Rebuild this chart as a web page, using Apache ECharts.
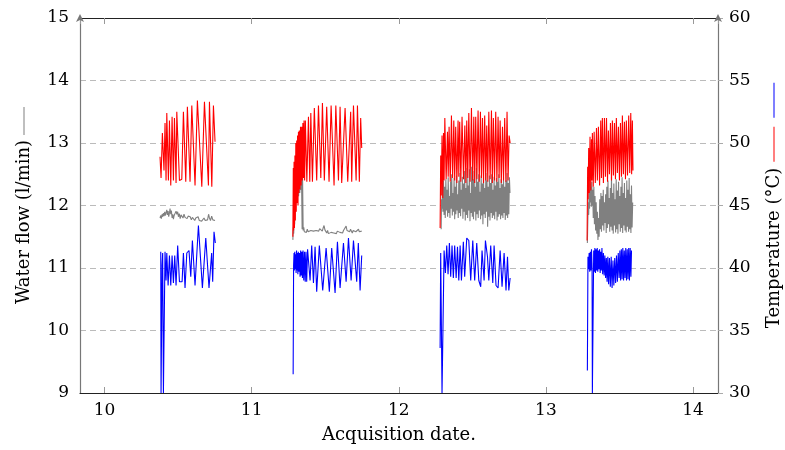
<!DOCTYPE html>
<html>
<head>
<meta charset="utf-8">
<script src="https://cdn.jsdelivr.net/npm/echarts@6/dist/echarts.min.js"></script>
<style>
html,body{margin:0;padding:0;background:#fff;}
#chart{width:785px;height:450px;}
</style>
</head>
<body>
<div id="chart"></div>
<script>
// ---- tick labels ----
const xTicks = [10, 11, 12, 13, 14];
const flowTicks = [9, 10, 11, 12, 13, 14, 15];
const tempTicks = [30, 35, 40, 45, 50, 55, 60];

// ---- hot water temperature (red, right axis) ----
const hot1 = [[10.377,48.9],[10.384,47.2],[10.393,50.8],[10.404,47.8],[10.411,51.6],[10.418,47.0],[10.423,52.4],[10.434,47.0],[10.441,51.8],[10.450,46.6],[10.459,52.1],[10.468,47.0],[10.475,52.0],[10.486,46.8],[10.491,52.5],[10.509,47.0],[10.525,47.1],[10.536,52.5],[10.552,46.9],[10.563,52.9],[10.581,46.9],[10.593,53.0],[10.615,46.6],[10.631,53.4],[10.661,46.5],[10.679,53.3],[10.706,46.6],[10.713,53.3],[10.729,46.5],[10.740,53.0],[10.751,50.1]];
const hot2 = [[11.280,42.5],[11.283,48.0],[11.285,43.0],[11.288,48.5],[11.291,43.2],[11.294,49.0],[11.297,43.8],[11.300,50.0],[11.303,44.5],[11.306,50.2],[11.309,45.2],[11.312,50.6],[11.315,45.0],[11.318,50.9],[11.321,46.0],[11.324,51.0],[11.328,46.3],[11.332,51.3],[11.336,46.6],[11.340,51.3],[11.344,47.0],[11.348,51.6],[11.352,47.2],[11.356,51.8],[11.360,47.0],[11.365,51.8],[11.375,46.9],[11.386,52.1],[11.395,46.9],[11.402,52.4],[11.413,46.9],[11.426,52.8],[11.442,47.0],[11.454,53.0],[11.470,47.2],[11.481,53.2],[11.494,47.0],[11.510,52.9],[11.526,46.9],[11.540,53.0],[11.560,46.6],[11.572,53.0],[11.590,47.0],[11.601,52.9],[11.612,46.8],[11.635,52.8],[11.653,46.9],[11.673,52.5],[11.680,46.9],[11.692,53.0],[11.710,47.0],[11.719,53.0],[11.732,46.9],[11.741,52.0],[11.748,49.6]];
const hot3 = [[12.281,43.2],[12.285,49.0],[12.289,45.8],[12.294,50.6],[12.299,45.6],[12.304,50.8],[12.308,47.0],[12.313,52.0],[12.322,47.1],[12.331,50.9],[12.336,47.3],[12.342,51.3],[12.350,46.9],[12.358,52.2],[12.366,47.2],[12.374,51.8],[12.380,47.0],[12.387,51.3],[12.395,46.8],[12.403,51.8],[12.408,47.3],[12.414,51.7],[12.422,46.9],[12.430,52.1],[12.440,47.1],[12.449,51.4],[12.456,46.8],[12.462,51.8],[12.469,47.2],[12.476,52.4],[12.485,46.9],[12.494,52.8],[12.502,47.0],[12.510,52.1],[12.516,46.8],[12.523,52.1],[12.531,47.1],[12.539,52.6],[12.547,46.9],[12.555,52.5],[12.562,47.2],[12.569,52.0],[12.576,46.8],[12.584,52.2],[12.591,47.0],[12.598,51.4],[12.605,46.9],[12.612,52.5],[12.621,47.1],[12.630,52.6],[12.636,46.8],[12.643,52.0],[12.651,47.0],[12.659,52.5],[12.667,46.9],[12.675,52.1],[12.682,47.2],[12.689,51.8],[12.697,46.8],[12.705,51.3],[12.712,47.0],[12.720,52.0],[12.728,46.9],[12.736,52.5],[12.743,47.0],[12.750,50.6],[12.757,50.0]];
const hot4 = [[13.280,42.2],[13.284,48.1],[13.287,45.5],[13.291,49.6],[13.295,46.0],[13.300,50.5],[13.305,46.2],[13.310,50.3],[13.313,47.0],[13.316,50.8],[13.322,46.5],[13.328,50.9],[13.336,46.8],[13.344,51.2],[13.350,47.0],[13.357,51.3],[13.365,46.6],[13.373,51.8],[13.378,47.2],[13.384,52.0],[13.391,46.8],[13.398,52.0],[13.405,47.3],[13.412,52.0],[13.419,46.9],[13.425,51.0],[13.432,47.5],[13.439,51.6],[13.446,47.0],[13.452,51.8],[13.459,47.4],[13.466,51.6],[13.473,47.1],[13.479,52.0],[13.486,47.6],[13.493,51.3],[13.500,47.0],[13.507,51.6],[13.514,47.3],[13.520,52.2],[13.527,47.5],[13.534,51.7],[13.541,47.1],[13.547,51.8],[13.555,47.4],[13.563,52.2],[13.570,47.6],[13.577,52.4],[13.583,47.5],[13.588,51.8],[13.592,47.8]];

// ---- return water temperature (blue, right axis) ----
const cold1 = [[10.382,41.3],[10.384,30.0],[10.388,30.0],[10.391,40.2],[10.395,41.2],[10.400,30.0],[10.407,30.0],[10.411,41.3],[10.418,39.0],[10.423,41.2],[10.432,38.6],[10.441,41.0],[10.450,38.6],[10.459,41.0],[10.468,38.8],[10.477,41.0],[10.486,38.6],[10.497,41.8],[10.509,38.9],[10.527,38.9],[10.536,41.2],[10.547,38.4],[10.559,41.2],[10.574,41.4],[10.586,39.3],[10.597,42.2],[10.615,38.6],[10.638,43.4],[10.665,38.4],[10.688,42.4],[10.710,38.4],[10.728,41.2],[10.735,38.9],[10.744,42.9],[10.753,42.0]];
const cold2 = [[11.282,31.5],[11.285,40.2],[11.288,41.2],[11.290,39.8],[11.293,41.3],[11.296,39.9],[11.299,41.1],[11.302,39.6],[11.305,41.4],[11.308,39.8],[11.311,41.2],[11.314,39.5],[11.317,41.3],[11.321,39.7],[11.325,41.2],[11.329,39.3],[11.333,41.4],[11.337,39.4],[11.341,41.3],[11.345,39.2],[11.349,41.4],[11.354,39.0],[11.359,41.3],[11.364,38.9],[11.369,41.3],[11.374,38.9],[11.380,41.5],[11.397,39.0],[11.408,41.8],[11.420,38.8],[11.431,41.7],[11.442,38.1],[11.460,41.8],[11.483,38.2],[11.506,41.6],[11.528,38.1],[11.544,41.6],[11.567,38.0],[11.583,42.1],[11.601,38.4],[11.624,42.0],[11.642,38.9],[11.658,42.4],[11.676,39.0],[11.692,42.2],[11.714,38.9],[11.725,42.0],[11.737,38.2],[11.748,41.0]];
const cold3 = [[12.281,33.6],[12.285,41.2],[12.294,30.0],[12.303,30.0],[12.308,41.4],[12.317,39.6],[12.326,41.8],[12.335,39.5],[12.344,42.0],[12.353,39.3],[12.362,41.8],[12.371,39.2],[12.380,41.8],[12.390,39.2],[12.399,41.7],[12.408,39.0],[12.417,41.8],[12.426,39.0],[12.439,42.1],[12.448,39.3],[12.462,42.4],[12.476,42.2],[12.489,39.0],[12.503,42.2],[12.516,39.0],[12.530,42.0],[12.544,39.0],[12.557,38.5],[12.566,41.4],[12.580,39.0],[12.589,42.2],[12.603,40.9],[12.612,39.0],[12.625,41.8],[12.639,38.8],[12.648,41.8],[12.661,38.6],[12.675,38.4],[12.689,41.4],[12.702,38.5],[12.716,41.2],[12.729,38.2],[12.739,40.9],[12.748,38.2],[12.757,39.2]];
const cold4 = [[13.282,31.8],[13.286,40.9],[13.290,39.9],[13.294,41.2],[13.298,39.7],[13.302,41.3],[13.306,39.8],[13.310,41.5],[13.314,40.0],[13.316,30.0],[13.321,30.0],[13.325,41.4],[13.329,39.7],[13.333,41.6],[13.337,39.6],[13.341,41.5],[13.345,39.8],[13.349,41.6],[13.353,39.7],[13.357,41.4],[13.361,39.9],[13.365,41.5],[13.369,39.6],[13.373,41.3],[13.377,39.8],[13.381,41.6],[13.386,39.5],[13.391,41.2],[13.396,39.4],[13.401,41.0],[13.406,39.2],[13.411,40.8],[13.416,38.9],[13.421,40.9],[13.426,38.7],[13.432,40.8],[13.438,38.5],[13.444,40.9],[13.450,38.4],[13.456,40.6],[13.462,38.6],[13.468,40.8],[13.474,38.8],[13.480,41.0],[13.486,38.9],[13.492,41.2],[13.498,39.2],[13.503,41.4],[13.508,39.0],[13.513,41.5],[13.518,39.1],[13.523,41.6],[13.528,39.0],[13.533,41.4],[13.538,39.2],[13.543,41.6],[13.548,39.0],[13.553,41.5],[13.558,39.1],[13.563,41.6],[13.568,39.0],[13.573,41.6],[13.578,39.3],[13.582,41.4]];

// ---- water flow (gray, left axis) ----
const flow1 = [[10.377,11.80],[10.382,11.84],[10.386,11.79],[10.391,11.86],[10.395,11.82],[10.400,11.88],[10.404,11.83],[10.409,11.90],[10.413,11.84],[10.418,11.87],[10.423,11.93],[10.427,11.85],[10.432,11.91],[10.436,11.82],[10.441,11.88],[10.445,11.95],[10.450,11.86],[10.454,11.92],[10.459,11.80],[10.464,11.86],[10.468,11.78],[10.473,11.84],[10.480,11.81],[10.486,11.91],[10.491,11.86],[10.497,11.90],[10.502,11.82],[10.508,11.87],[10.514,11.79],[10.520,11.85],[10.527,11.83],[10.533,11.80],[10.540,11.86],[10.547,11.81],[10.554,11.84],[10.561,11.79],[10.568,11.83],[10.575,11.80],[10.582,11.82],[10.590,11.77],[10.597,11.81],[10.605,11.79],[10.613,11.76],[10.620,11.80],[10.628,11.78],[10.636,11.82],[10.644,11.76],[10.652,11.79],[10.660,11.75],[10.668,11.78],[10.676,11.80],[10.684,11.76],[10.692,11.79],[10.700,11.77],[10.707,11.86],[10.713,11.80],[10.720,11.76],[10.728,11.83],[10.736,11.77],[10.744,11.80],[10.751,11.76]];
const flow2 = [[11.280,11.45],[11.283,11.65],[11.286,11.55],[11.289,12.00],[11.292,11.70],[11.295,12.15],[11.298,11.95],[11.301,12.30],[11.304,12.05],[11.307,12.35],[11.311,12.10],[11.315,12.38],[11.319,12.15],[11.323,12.40],[11.327,12.20],[11.331,12.42],[11.335,12.25],[11.339,12.45],[11.343,11.62],[11.346,12.45],[11.350,11.60],[11.354,11.65],[11.358,11.58],[11.366,11.60],[11.372,11.57],[11.378,11.62],[11.384,11.58],[11.390,11.61],[11.396,11.56],[11.402,11.60],[11.408,11.58],[11.414,11.62],[11.420,11.59],[11.426,11.61],[11.432,11.58],[11.438,11.60],[11.444,11.57],[11.450,11.61],[11.456,11.59],[11.462,11.63],[11.468,11.60],[11.474,11.62],[11.480,11.59],[11.486,11.64],[11.492,11.68],[11.498,11.61],[11.504,11.58],[11.510,11.56],[11.516,11.60],[11.522,11.55],[11.528,11.58],[11.534,11.54],[11.540,11.57],[11.546,11.55],[11.552,11.58],[11.558,11.56],[11.564,11.54],[11.570,11.57],[11.576,11.55],[11.582,11.59],[11.588,11.56],[11.594,11.60],[11.600,11.57],[11.606,11.55],[11.612,11.58],[11.618,11.56],[11.624,11.60],[11.630,11.63],[11.636,11.58],[11.642,11.67],[11.648,11.60],[11.654,11.57],[11.660,11.61],[11.666,11.58],[11.672,11.62],[11.678,11.59],[11.684,11.56],[11.690,11.60],[11.696,11.57],[11.702,11.61],[11.708,11.58],[11.714,11.55],[11.720,11.59],[11.726,11.62],[11.732,11.58],[11.738,11.60],[11.744,11.57],[11.748,11.59]];
const flow3 = [[12.288,11.62],[12.291,12.10],[12.294,11.95],[12.297,12.35],[12.300,11.90],[12.304,12.40],[12.308,11.85],[12.312,12.30],[12.316,11.80],[12.320,12.42],[12.324,11.92],[12.328,12.25],[12.332,11.82],[12.336,12.45],[12.340,11.88],[12.344,12.15],[12.348,11.80],[12.352,12.38],[12.356,11.95],[12.360,12.50],[12.364,11.84],[12.368,12.20],[12.372,11.90],[12.376,12.44],[12.380,11.78],[12.384,12.30],[12.388,11.86],[12.392,12.48],[12.396,11.92],[12.400,12.18],[12.404,11.80],[12.408,12.40],[12.412,11.88],[12.416,12.52],[12.420,11.83],[12.424,12.25],[12.428,11.95],[12.432,12.46],[12.436,11.79],[12.440,12.35],[12.444,11.90],[12.448,12.55],[12.452,11.76],[12.456,12.28],[12.460,11.85],[12.464,12.60],[12.468,11.80],[12.472,12.32],[12.476,11.92],[12.480,12.58],[12.484,11.75],[12.488,12.20],[12.492,11.88],[12.496,12.62],[12.500,11.82],[12.504,12.42],[12.508,11.78],[12.512,12.55],[12.516,11.90],[12.520,12.30],[12.524,11.76],[12.528,12.60],[12.532,11.86],[12.536,12.38],[12.540,11.80],[12.544,12.50],[12.548,11.92],[12.552,12.22],[12.556,11.78],[12.560,12.48],[12.564,11.84],[12.568,12.35],[12.572,11.70],[12.576,12.45],[12.580,11.86],[12.584,12.28],[12.588,11.80],[12.592,12.52],[12.596,11.90],[12.600,12.40],[12.604,11.66],[12.608,12.30],[12.612,11.82],[12.616,12.48],[12.620,11.76],[12.624,12.36],[12.628,11.88],[12.632,12.50],[12.636,11.80],[12.640,12.25],[12.644,11.84],[12.648,12.46],[12.652,11.78],[12.656,12.32],[12.660,11.90],[12.664,12.44],[12.668,11.76],[12.672,12.38],[12.676,11.82],[12.680,12.50],[12.684,11.86],[12.688,12.28],[12.692,11.78],[12.696,12.42],[12.700,11.84],[12.704,12.34],[12.708,11.80],[12.712,12.46],[12.716,11.88],[12.720,12.30],[12.724,11.77],[12.728,12.40],[12.732,11.84],[12.736,12.52],[12.740,11.80],[12.744,12.36],[12.748,11.86],[12.752,12.45],[12.756,12.20]];
const flow4 = [[13.282,11.40],[13.285,11.75],[13.288,12.05],[13.291,11.85],[13.294,12.25],[13.297,11.95],[13.300,12.35],[13.303,12.05],[13.306,12.30],[13.309,11.98],[13.312,12.38],[13.315,12.00],[13.318,12.25],[13.322,11.80],[13.326,12.30],[13.330,11.70],[13.334,12.15],[13.338,11.60],[13.342,12.05],[13.346,11.55],[13.350,11.90],[13.354,11.45],[13.358,11.80],[13.362,11.50],[13.366,12.10],[13.370,11.62],[13.374,12.20],[13.378,11.58],[13.382,12.15],[13.386,11.68],[13.390,12.25],[13.394,11.60],[13.398,12.05],[13.402,11.72],[13.406,12.18],[13.410,11.56],[13.414,12.30],[13.418,11.64],[13.422,12.40],[13.426,11.70],[13.430,12.12],[13.434,11.58],[13.438,12.28],[13.442,11.66],[13.446,12.46],[13.450,11.60],[13.454,12.20],[13.458,11.55],[13.462,12.35],[13.466,11.68],[13.470,12.10],[13.474,11.57],[13.478,12.42],[13.482,11.62],[13.486,12.24],[13.490,11.55],[13.494,12.38],[13.498,11.70],[13.502,12.15],[13.506,11.58],[13.510,12.30],[13.514,11.64],[13.518,12.45],[13.522,11.56],[13.526,12.20],[13.530,11.68],[13.534,12.36],[13.538,11.60],[13.542,12.12],[13.546,11.57],[13.550,12.40],[13.554,11.66],[13.558,12.25],[13.562,11.58],[13.566,12.44],[13.570,11.62],[13.574,12.18],[13.578,11.56],[13.582,12.32],[13.586,11.65],[13.590,12.05]];

const hotSegs = [hot1, hot2, hot3, hot4];
const coldSegs = [cold1, cold2, cold3, cold4];
const flowSegs = [flow1, flow2, flow3, flow4];

const FONT = 'DejaVu Serif';
const chart = echarts.init(document.getElementById('chart'), null, {renderer: 'canvas'});

function mk(segs, color, yIdx, z) {
  return segs.map(d => ({
    type: 'line', xAxisIndex: 0, yAxisIndex: yIdx, data: d,
    showSymbol: false, symbol: 'none', animation: false, z: z,
    lineStyle: {color: color, width: 1.1}, itemStyle: {color: color},
    emphasis: {disabled: true}
  }));
}

const xMin = 9.833, xMax = 14.17;
const option = {
  animation: false,
  grid: {left: 80, right: 67, top: 18, bottom: 57, containLabel: false, outerBoundsMode: 'none'},
  xAxis: [{
    type: 'value', min: xMin, max: xMax, position: 'bottom',
    name: 'Acquisition date.', nameLocation: 'middle', nameGap: 33,
    nameTextStyle: {fontFamily: FONT, fontSize: 18, color: '#000'},
    axisLine: {show: true, lineStyle: {color: '#222', width: 1.2}},
    axisTick: {show: true, inside: true, length: 6, lineStyle: {color: '#999'}},
    axisLabel: {show: true, margin: 9, fontFamily: FONT, fontSize: 17, color: '#000',
      showMinLabel: false, showMaxLabel: false,
      formatter: v => xTicks.includes(Math.round(v * 1000) / 1000) ? String(Math.round(v)) : ''},
    splitLine: {show: false}
  }, {
    type: 'value', min: xMin, max: xMax, position: 'top',
    axisLine: {show: true, lineStyle: {color: '#222', width: 1.2}},
    axisTick: {show: true, inside: true, length: 6, lineStyle: {color: '#999'}},
    axisLabel: {show: false}, splitLine: {show: false}
  }],
  yAxis: [{
    type: 'value', min: flowTicks[0], max: flowTicks[flowTicks.length - 1], interval: 1, position: 'left',
    name: '{t|Water flow (l/min)}{sp| }{g| }', nameLocation: 'middle', nameGap: 47, nameRotate: 90,
    nameTextStyle: {fontFamily: FONT, fontSize: 18, color: '#000',
      rich: {
        t: {fontFamily: FONT, fontSize: 18, color: '#000', verticalAlign: 'middle'},
        sp: {width: 5, verticalAlign: 'middle'},
        g: {width: 28, height: 1, backgroundColor: '#808080', verticalAlign: 'middle'}
      }},
    axisLine: {show: true, lineStyle: {color: '#777', width: 1.2}, symbol: ['none', 'arrow'], symbolSize: [6, 8], symbolOffset: [0, 4]},
    axisTick: {show: false},
    axisLabel: {margin: 11, fontFamily: FONT, fontSize: 17, color: '#000'},
    splitLine: {show: true, lineStyle: {color: '#bbb', type: [6, 4], width: 1}}
  }, {
    type: 'value', min: tempTicks[0], max: tempTicks[tempTicks.length - 1], interval: 5, position: 'right',
    name: '{t|Temperature (°C)}{sp| }{r| }{sp2| }{b| }', nameLocation: 'middle', nameGap: 47, nameRotate: 90,
    nameTextStyle: {fontFamily: FONT, fontSize: 18, color: '#000',
      rich: {
        t: {fontFamily: FONT, fontSize: 18, color: '#000', verticalAlign: 'middle'},
        sp: {width: 6, verticalAlign: 'middle'},
        sp2: {width: 9, verticalAlign: 'middle'},
        r: {width: 35, height: 1, backgroundColor: '#ff0000', verticalAlign: 'middle'},
        b: {width: 35, height: 1, backgroundColor: '#0000ff', verticalAlign: 'middle'}
      }},
    axisLine: {show: true, lineStyle: {color: '#777', width: 1.2}, symbol: ['none', 'arrow'], symbolSize: [6, 8], symbolOffset: [0, 4]},
    axisTick: {show: true, inside: false, length: 5, lineStyle: {color: '#aaa'}},
    axisLabel: {margin: 11, fontFamily: FONT, fontSize: 17, color: '#000'},
    splitLine: {show: false}
  }],
  series: [].concat(mk(flowSegs, '#808080', 0, 2), mk(hotSegs, '#ff0000', 1, 3), mk(coldSegs, '#0000ff', 1, 4))
};
chart.setOption(option);
</script>
</body>
</html>
